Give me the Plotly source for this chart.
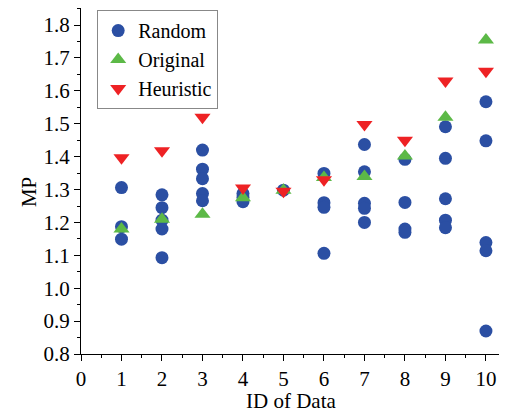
import plotly.graph_objects as go

ids = [1, 2, 3, 4, 5, 6, 7, 8, 9, 10]

random_vals = {
    1: [1.306, 1.187, 1.149],
    2: [1.284, 1.245, 1.207, 1.180, 1.093],
    3: [1.420, 1.362, 1.333, 1.288, 1.266],
    4: [1.288, 1.276, 1.263],
    5: [1.298],
    6: [1.349, 1.260, 1.246, 1.106],
    7: [1.437, 1.354, 1.258, 1.243, 1.200],
    8: [1.392, 1.261, 1.180, 1.170],
    9: [1.491, 1.395, 1.272, 1.207, 1.184],
    10: [1.567, 1.448, 1.139, 1.114, 0.870],
}
original_vals = [1.180, 1.210, 1.225, 1.275, 1.298, 1.337, 1.340, 1.402, 1.520, 1.755]
heuristic_vals = [1.397, 1.418, 1.520, 1.305, 1.295, 1.330, 1.498, 1.450, 1.630, 1.660]

rx, ry = [], []
for k in ids:
    for v in random_vals[k]:
        rx.append(k)
        ry.append(v)

font_family = "Liberation Serif, Times New Roman, serif"

fig = go.Figure()
fig.add_trace(go.Scatter(x=rx, y=ry, mode="markers", name="Random", cliponaxis=False,
                         marker=dict(symbol="circle", size=13, color="#2B4FA3")))
fig.add_trace(go.Scatter(x=ids, y=original_vals, mode="markers", name="Original", cliponaxis=False,
                         marker=dict(symbol="triangle-up", size=14, color="#5CB947")))
fig.add_trace(go.Scatter(x=ids, y=heuristic_vals, mode="markers", name="Heuristic", cliponaxis=False,
                         marker=dict(symbol="triangle-down", size=14, color="#EE2224")))

fig.update_layout(
    width=499, height=406,
    margin=dict(l=73, r=0, t=0, b=60, autoexpand=False),
    plot_bgcolor="white", paper_bgcolor="white",
    font=dict(family=font_family, size=21, color="black"),
    showlegend=True,
    legend=dict(x=0.038, y=0.994, xanchor="left", yanchor="top",
                bordercolor="#888888", borderwidth=1, bgcolor="white",
                font=dict(size=20, family=font_family),
                itemwidth=30, tracegroupgap=0),
    xaxis=dict(range=[0, 10.52], dtick=1, tick0=0, showgrid=False, zeroline=False,
               automargin=False,
               showline=True, linecolor="black", linewidth=1.2,
               ticks="outside", ticklen=6, tickwidth=1.2, tickcolor="black",
               minor=dict(dtick=0.5, ticks="outside", ticklen=3, tickcolor="black", tickwidth=1)),
    yaxis=dict(range=[0.8, 1.852], dtick=0.1, tick0=0.8, tickformat=".1f",
               showgrid=False, zeroline=False, automargin=False,
               showline=True, linecolor="black", linewidth=1.2,
               ticks="outside", ticklen=6, tickwidth=1.2, tickcolor="black",
               minor=dict(dtick=0.05, ticks="outside", ticklen=3, tickcolor="black", tickwidth=1)),
    annotations=[
        dict(text="ID of Data", xref="paper", yref="paper", x=0.493, y=-0.136,
             xanchor="center", yanchor="middle", showarrow=False, font=dict(size=21)),
        dict(text="MP", xref="paper", yref="paper", x=-0.122, y=0.468, textangle=-90,
             xanchor="center", yanchor="middle", showarrow=False, font=dict(size=21)),
    ],
)

fig.write_html("out.html")
